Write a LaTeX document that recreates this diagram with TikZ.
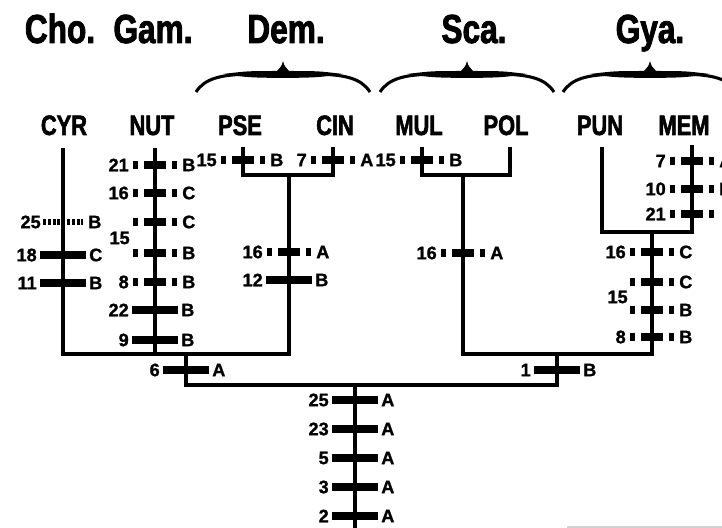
\documentclass[tikz,border=0pt]{standalone}
\usepackage{fontspec}
\setmainfont{Liberation Sans}[FakeBold=1.2]
\newfontfamily\condfont{Liberation Sans}[FakeStretch=0.78, FakeBold=2]
\usetikzlibrary{positioning}

\begin{document}
\begin{tikzpicture}[x=0.75pt, y=-0.75pt,
    tree/.style={line width=3.6pt},
    solidbar/.style={line width=6.2pt},
    dashbar/.style={line width=6.2pt, dash pattern=on 3.75pt off 4.5pt on 16.5pt off 4.5pt on 3.75pt off 60pt},
    dotbar/.style={line width=5pt, dash pattern=on 2.2pt off 1.4pt},
    num/.style={anchor=east, inner sep=0pt, font=\bfseries\fontsize{13.6}{14}\selectfont},
    st/.style={anchor=west, inner sep=0pt, font=\bfseries\fontsize{13.6}{14}\selectfont},
    taxon/.style={anchor=base, inner sep=0pt, font=\condfont\bfseries\fontsize{21}{22}\selectfont},
    group/.style={anchor=base, inner sep=0pt, font=\condfont\bfseries\fontsize{30.4}{32}\selectfont},
    grpbrace/.style={line width=2.3pt}]
    \clip (0,0) rectangle (722,528);

    % Grupos
    \node[group] (cho) at (60,43) {Cho.};
    \node[group] (gam) at (153,43) {Gam.};
    \node[group] (dem) at (286,43) {Dem.};
    \node[group] (sca) at (474,43) {Sca.};
    \node[group] (gya) at (650,43) {Gya.};
    \foreach \c in {283,467,650} {
      \draw[grpbrace] (\c-87,92) .. controls (\c-78,78) and (\c-62,75) .. (\c-35,74)
        -- (\c-10,74) .. controls (\c-3,74) and (\c-1,70) .. (\c,66)
        .. controls (\c+1,70) and (\c+3,74) .. (\c+10,74) -- (\c+35,74)
        .. controls (\c+62,75) and (\c+78,78) .. (\c+87,92);
      \fill (\c-60,74) .. controls (\c-35,71) .. (\c-6,71) -- (\c,64) -- (\c+6,71)
        .. controls (\c+35,71) .. (\c+60,74) .. controls (\c+35,77.5) .. (\c,78)
        .. controls (\c-35,77.5) .. cycle;
    }

    % Taxones
    \node[taxon] (lcyr) at (64,135) {CYR};
    \node[taxon] (lnut) at (152,135) {NUT};
    \node[taxon] (lpse) at (240,135) {PSE};
    \node[taxon] (lcin) at (335,135) {CIN};
    \node[taxon] (lmul) at (419,135) {MUL};
    \node[taxon] (lpol) at (506,135) {POL};
    \node[taxon] (lpun) at (600,135) {PUN};
    \node[taxon] (lmem) at (684,135) {MEM};

    % Arbol
    \coordinate (cyr) at (63,148);
    \coordinate (nut) at (155,148);
    \coordinate (pse) at (243,147);
    \coordinate (cin) at (333,147);
    \coordinate (mul) at (422,147);
    \coordinate (pol) at (510,147);
    \coordinate (pun) at (602,147);
    \coordinate (mem) at (692,145);
    \coordinate (jdem) at (289,175);
    \coordinate (jsca) at (463,175);
    \coordinate (jgya) at (652,232);
    \coordinate (jlft) at (186,354);
    \coordinate (jrgt) at (557,354);
    \coordinate (root) at (355,385);
    \coordinate (base) at (355,540);
    \draw[tree] (pse) |- (jdem) -| (cin);
    \draw[tree] (mul) |- (jsca) -| (pol);
    \draw[tree] (pun) |- (jgya) -| (mem);
    \draw[tree] (cyr) |- (jlft) -| (jdem);
    \draw[tree] (nut) -- (nut |- jlft);
    \draw[tree] (jsca) |- (jrgt) -| (jgya);
    \draw[tree] (jlft) |- (root) -| (jrgt);
    \draw[tree] (root) -- (base);

    % Caracteres
    \foreach \x/\y/\n/\s in {63/255/18/C, 63/283/11/B, 155/310/22/B, 155/340/9/B,
        289/280/12/B, 186/370/6/A, 557/370/1/B, 355/400/25/A, 355/429/23/A,
        355/458/5/A, 355/487/3/A, 355/516/2/A} {
      \draw[solidbar] (\x-23,\y) -- (\x+23,\y);
      \node[num] (n-\x-\y) at (\x-26,\y) {\n};
      \node[st] (s-\x-\y) at (\x+26,\y) {\s};
    }
    \foreach \x/\y/\n/\s in {155/165/21/B, 155/193/16/C, 155/222//C, 155/253//B,
        155/282/8/B, 243/160/15/B, 333/160/7/A, 289/252/16/A, 422/160/15/B,
        463/253/16/A, 692/161/7/A, 692/189/10/B, 692/214/21/, 652/252/16/C,
        652/282//C, 652/310//B, 652/337/8/B} {
      \draw[dashbar] (\x-22,\y) -- (\x+22,\y);
      \node[num] (n-\x-\y) at (\x-26,\y) {\n};
      \node[st] (s-\x-\y) at (\x+27,\y) {\s};
    }
    \draw[dotbar] (43,222) -- (83,222);
    \node[num] (n-63-222) at (41,222) {25};
    \node[st] (s-63-222) at (88,222) {B};
    \node[num] (n15a) at (130,238) {15};
    \node[num] (n15b) at (628,297) {15};

    \draw[gray!35, line width=0.8pt] (567,527) -- (722,527);
  \end{tikzpicture}
\end{document}
